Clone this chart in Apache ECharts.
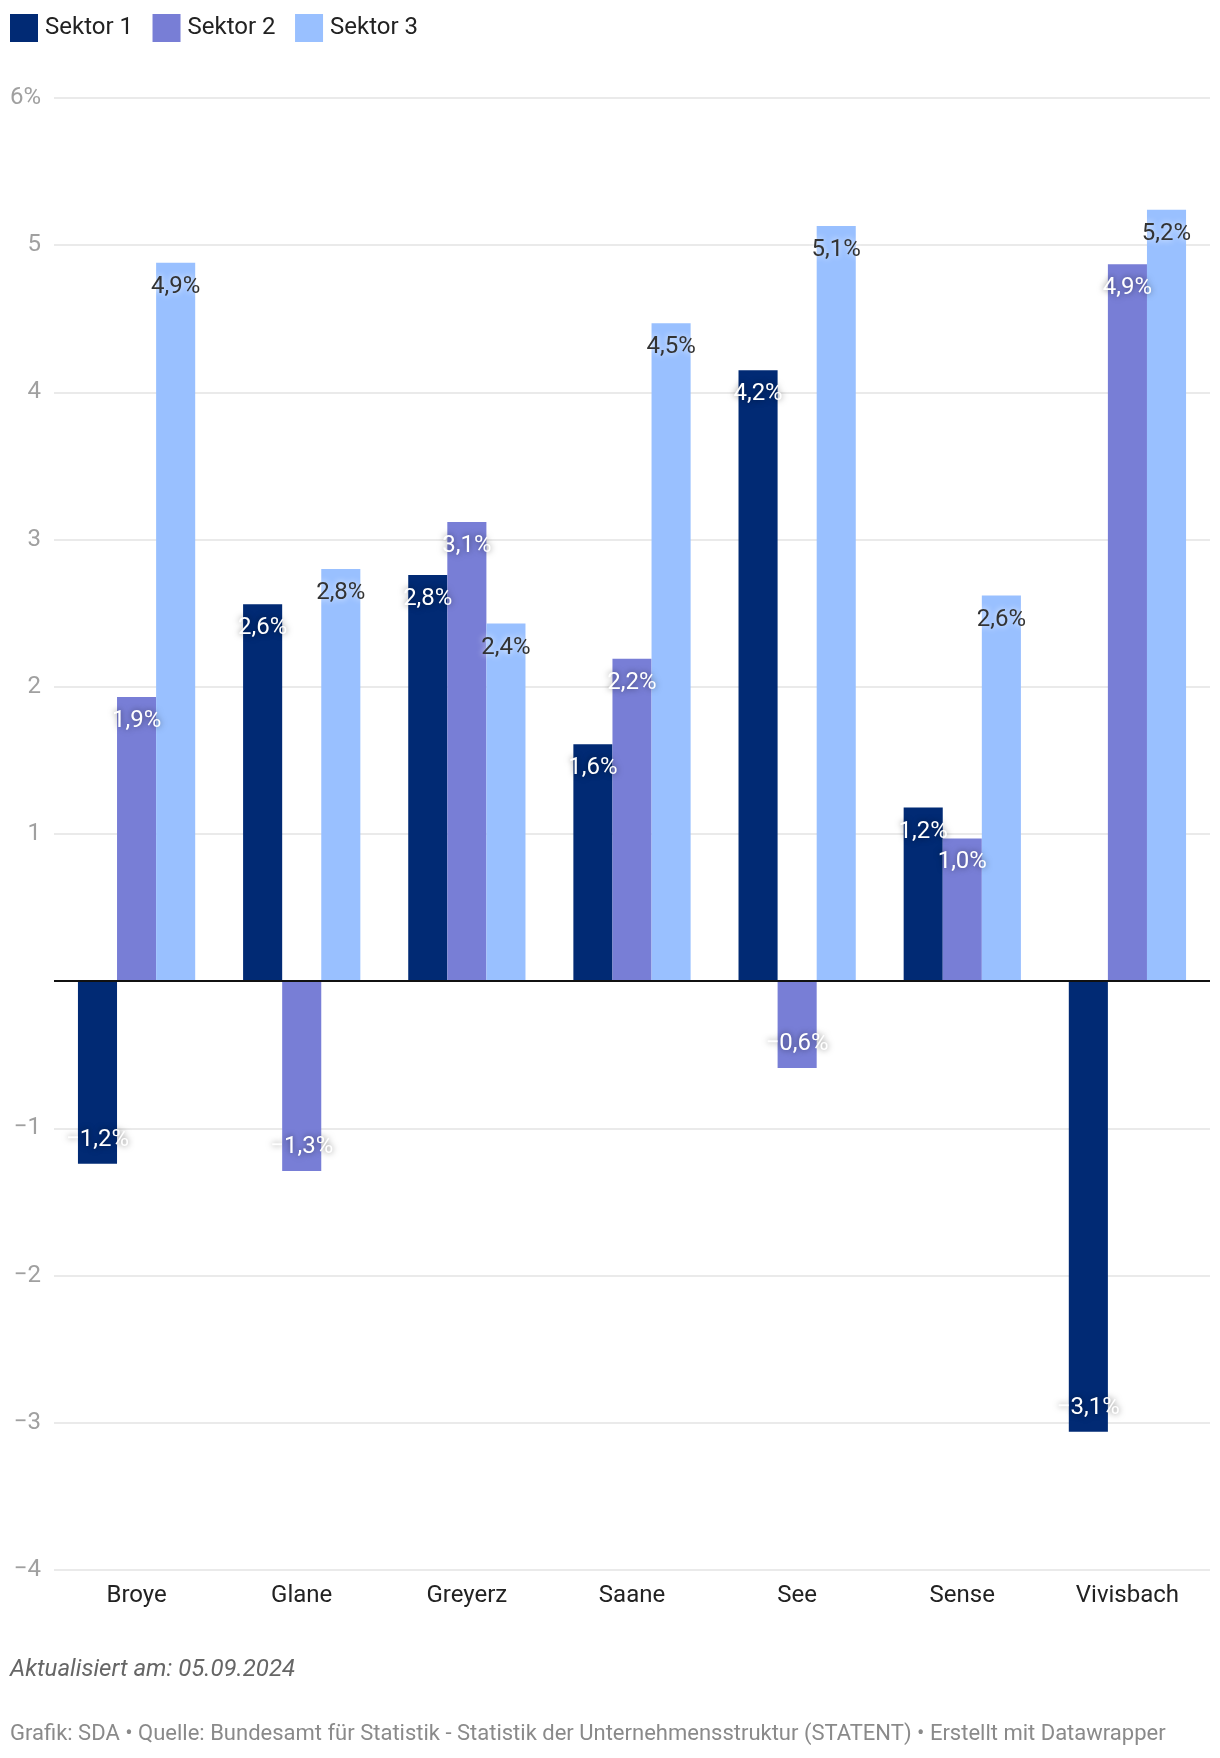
<!DOCTYPE html>
<html>
<head>
<meta charset="utf-8">
<script src="https://cdn.jsdelivr.net/npm/echarts@6/dist/echarts.min.js"></script>
<style>
  html, body { margin: 0; padding: 0; background: #fff; }
  #chart { width: 1220px; height: 1758px; }
</style>
</head>
<body>
<div id="chart"></div>
<script>
const categories = ['Broye', 'Glane', 'Greyerz', 'Saane', 'See', 'Sense', 'Vivisbach'];
const seriesNames = ['Sektor 1', 'Sektor 2', 'Sektor 3'];
const sektor1 = [-1.24, 2.56, 2.76, 1.61, 4.15, 1.18, -3.06];
const sektor2 = [1.93, -1.29, 3.12, 2.19, -0.59, 0.97, 4.87];
const sektor3 = [4.88, 2.80, 2.43, 4.47, 5.13, 2.62, 5.24];
const yTicks = { min: -4, max: 6, interval: 1 };
const footerUpdated = 'Aktualisiert am: 05.09.2024';
const footerSource = 'Grafik: SDA • Quelle: Bundesamt für Statistik - Statistik der Unternehmensstruktur (STATENT) • Erstellt mit Datawrapper';

const colors = ['#012a74', '#787ed6', '#99c0ff'];
const FONT = 'Roboto, "Noto Sans", sans-serif';

function fmt(v) {
  const r = Math.round(Math.abs(v) * 10) / 10;
  const s = r.toFixed(1).replace('.', ',') + '%';
  return (v < 0 ? '\u2212' : '') + s;
}

function makeSeries(name, values, idx) {
  const dark = idx < 2;
  return {
    name: name,
    type: 'bar',
    barGap: '0%',
    barCategoryGap: '29%',
    itemStyle: { color: colors[idx] },
    data: values.map(v => ({
      value: v,
      label: { position: v < 0 ? 'insideBottom' : 'insideTop' }
    })),
    label: {
      show: true,
      distance: 12,
      formatter: p => fmt(p.value),
      fontFamily: FONT,
      fontSize: 24,
      color: dark ? '#ffffff' : '#333333',
      textShadowColor: dark ? 'rgba(0,0,0,0.55)' : 'rgba(255,255,255,0.95)',
      textShadowBlur: 6
    },
    markLine: idx === 0 ? {
      silent: true,
      symbol: 'none',
      label: { show: false },
      lineStyle: { color: '#111', width: 2, type: 'solid' },
      data: [{ yAxis: 0 }],
      z: 10
    } : undefined,
    z: 3
  };
}

const chart = echarts.init(document.getElementById('chart'), null, { renderer: 'canvas' });
chart.setOption({
  animation: false,
  backgroundColor: '#fff',
  color: colors,
  textStyle: { fontFamily: FONT },
  legend: {
    left: 10,
    top: 14,
    padding: 0,
    itemWidth: 28,
    itemHeight: 28,
    itemGap: 19.5,
    icon: 'rect',
    selectedMode: false,
    textStyle: { fontFamily: FONT, fontSize: 24, color: '#222', padding: [0, 0, 0, 2] },
    data: seriesNames
  },
  grid: { left: 54, right: 10, top: 98, bottom: 188, containLabel: false },
  xAxis: {
    type: 'category',
    data: categories,
    axisLine: { show: false },
    axisTick: { show: false },
    axisLabel: { fontFamily: FONT, fontSize: 24, color: '#222', margin: 14 }
  },
  yAxis: {
    type: 'value',
    min: yTicks.min,
    max: yTicks.max,
    interval: yTicks.interval,
    axisLine: { show: false },
    axisTick: { show: false },
    splitLine: { lineStyle: { color: '#e3e3e3', width: 1.5 } },
    axisLabel: {
      fontFamily: FONT,
      fontSize: 24,
      color: '#a0a0a0',
      margin: 13,
      formatter: v => v === 0 ? '' : (v === yTicks.max ? v + '%' : (v < 0 ? '\u2212' + Math.abs(v) : String(v)))
    }
  },
  graphic: [
    {
      type: 'text', left: 10, top: 1658,
      style: { text: footerUpdated, fontFamily: FONT, fontSize: 24, fontStyle: 'italic', fill: '#666' }
    },
    {
      type: 'text', left: 10, top: 1723,
      style: { text: footerSource, fontFamily: FONT, fontSize: 22, fill: '#8a8a8a' }
    }
  ],
  series: [
    makeSeries(seriesNames[0], sektor1, 0),
    makeSeries(seriesNames[1], sektor2, 1),
    makeSeries(seriesNames[2], sektor3, 2)
  ]
});
</script>
</body>
</html>
